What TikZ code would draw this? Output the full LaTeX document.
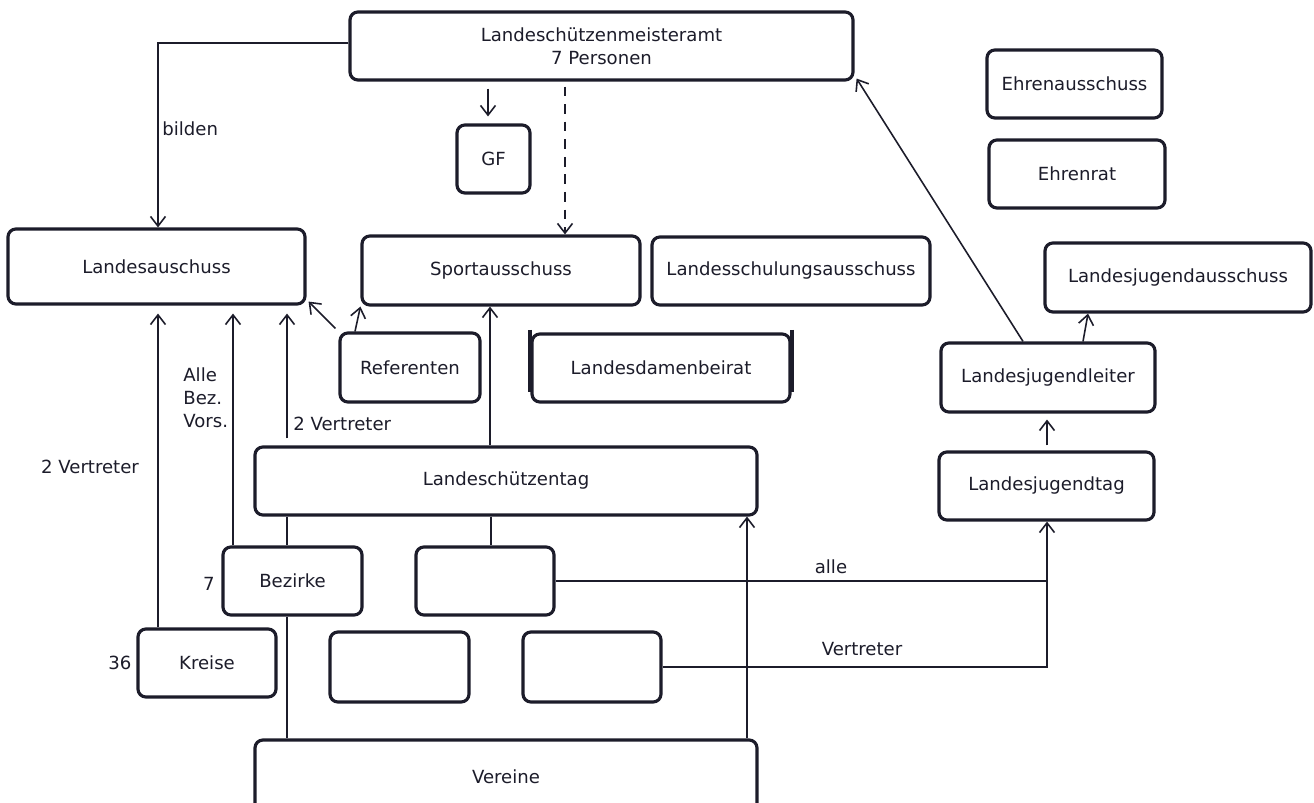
\documentclass[tikz,border=0pt]{standalone}
\usepackage{fontspec}
\setmainfont{DejaVu Sans}
\usetikzlibrary{arrows.meta,calc}
\definecolor{ink}{RGB}{28,28,42}
\begin{document}
\begin{tikzpicture}[x=0.02cm,y=-0.02cm,
  box/.style={draw=ink, line width=1.8pt, rounded corners=4.5pt, inner sep=0pt, text=ink,
              font=\fontsize{10.3}{13}\selectfont, align=center},
  wh/.style 2 args={minimum width=#1*0.02cm, minimum height=#2*0.02cm},
  conn/.style={draw=ink, line width=0.9pt},
  arr/.style={conn, -{Straight Barb[length=5.5pt,width=8.5pt,line width=0.9pt]}},
  lbl/.style={text=ink, font=\fontsize{10.3}{13}\selectfont, inner sep=0pt, align=left}]
\useasboundingbox[fill=white] (0,0) rectangle (1314,803);

% boxes
\node[box, wh={503}{68}] (lma) at (601.5,46) {Landeschützenmeisteramt\\7 Personen};
\node[box, wh={73}{68}] (gf) at (493.5,159) {GF};
\node[box, wh={297}{75}] (la) at (156.5,266.5) {Landesauschuss};
\node[box, wh={278}{69}] (sa) at (501,270.5) {Sportausschuss};
\node[box, wh={278}{68}] (lsa) at (791,271) {Landesschulungsausschuss};
\node[box, wh={140}{69}] (ref) at (410,367.5) {Referenten};
\node[box, wh={258}{68}] (ldb) at (661,368) {Landesdamenbeirat};
\draw[ink, line width=2.2pt] (ldb.west |- 0,330) -- (ldb.west |- 0,392)
                             (ldb.east |- 0,330) -- (ldb.east |- 0,392);
\node[box, wh={175}{68}] (ea) at (1074.5,84) {Ehrenausschuss};
\node[box, wh={176}{68}] (er) at (1077,174) {Ehrenrat};
\node[box, wh={266}{69}] (lja) at (1178,277.5) {Landesjugendausschuss};
\node[box, wh={214}{69}] (ljl) at (1048,377.5) {Landesjugendleiter};
\node[box, wh={215}{68}] (ljt) at (1046.5,486) {Landesjugendtag};
\node[box, wh={502}{68}] (lst) at (506,481) {Landeschützentag};
\node[box, wh={139}{68}] (bz) at (292.5,581) {Bezirke};
\node[box, wh={138}{68}] (e1) at (485,581) {};
\node[box, wh={138}{68}] (kr) at (207,663) {Kreise};
\node[box, wh={139}{70}] (e2) at (399.5,667) {};
\node[box, wh={138}{70}] (e3) at (592,667) {};
\node[box, wh={502}{74}] (ver) at (506,777) {Vereine};

% labels
\node[lbl, anchor=west] (tbilden) at (162,129) {bilden};
\node[lbl, anchor=west] (talle) at (183,398) {Alle\\Bez.\\Vors.};
\node[lbl] (tzv1) at (90,467) {2 Vertreter};
\node[lbl, anchor=west] (tzv2) at (293,424) {2 Vertreter};
\node[lbl] (tsieben) at (209,584) {7};
\node[lbl] (tsechs) at (120,663) {36};
\node[lbl] (tall) at (831,567) {alle};
\node[lbl] (tvert) at (862,649) {Vertreter};

% connectors
\draw[arr] (lma.west |- 0,43) -| (la.north -| 158,0);
\draw[arr, shorten <=0.14cm, shorten >=0.14cm] (lma.south -| 488,0) -- (gf.north -| 488,0);
\draw[arr, dashed, dash pattern=on 5.5pt off 4.5pt, shorten <=0.1cm] (lma.south -| 565,0) -- (sa.north -| 565,0);
\draw[arr, shorten >=0.16cm] (kr.north -| 158,0) -- (la.south -| 158,0);
\draw[arr, shorten >=0.16cm] (bz.north -| 233,0) -- (la.south -| 233,0);
\draw[arr, shorten <=0.14cm, shorten >=0.16cm] (lst.north -| 287,0) -- (la.south -| 287,0);
\draw[conn] (lst.south -| 287,0) -- (bz.north -| 287,0);
\draw[conn] (bz.south -| 287,0) -- (ver.north -| 287,0);
\draw[arr] ($(ref.north west)+(-3,-3)$) -- ($(la.south east)+(2,-4)$);
\draw[arr] (ref.north -| 355,0) -- (sa.south west);
\draw[arr] (lst.north -| 490,0) -- (sa.south -| 490,0);
\draw[conn] (lst.south -| 491,0) -- (e1.north -| 491,0);
\draw[arr] (ver.north -| 747,0) -- (lst.south -| 747,0);
\draw[arr] (e1.east) -| (ljt.south -| 1047,0);
\draw[conn] (e3.east) -| (e1.east -| 1047,0);
\draw[arr, shorten <=0.1cm, shorten >=0.12cm] (ljt.north -| 1047,0) -- (ljl.south -| 1047,0);
\draw[arr] (ljl.north -| 1083,0) -- (lja.south -| 1088,0);
\draw[arr] (ljl.north -| 1023,0) -- ($(lma.south east)+(2,-3)$);
\end{tikzpicture}
\end{document}
